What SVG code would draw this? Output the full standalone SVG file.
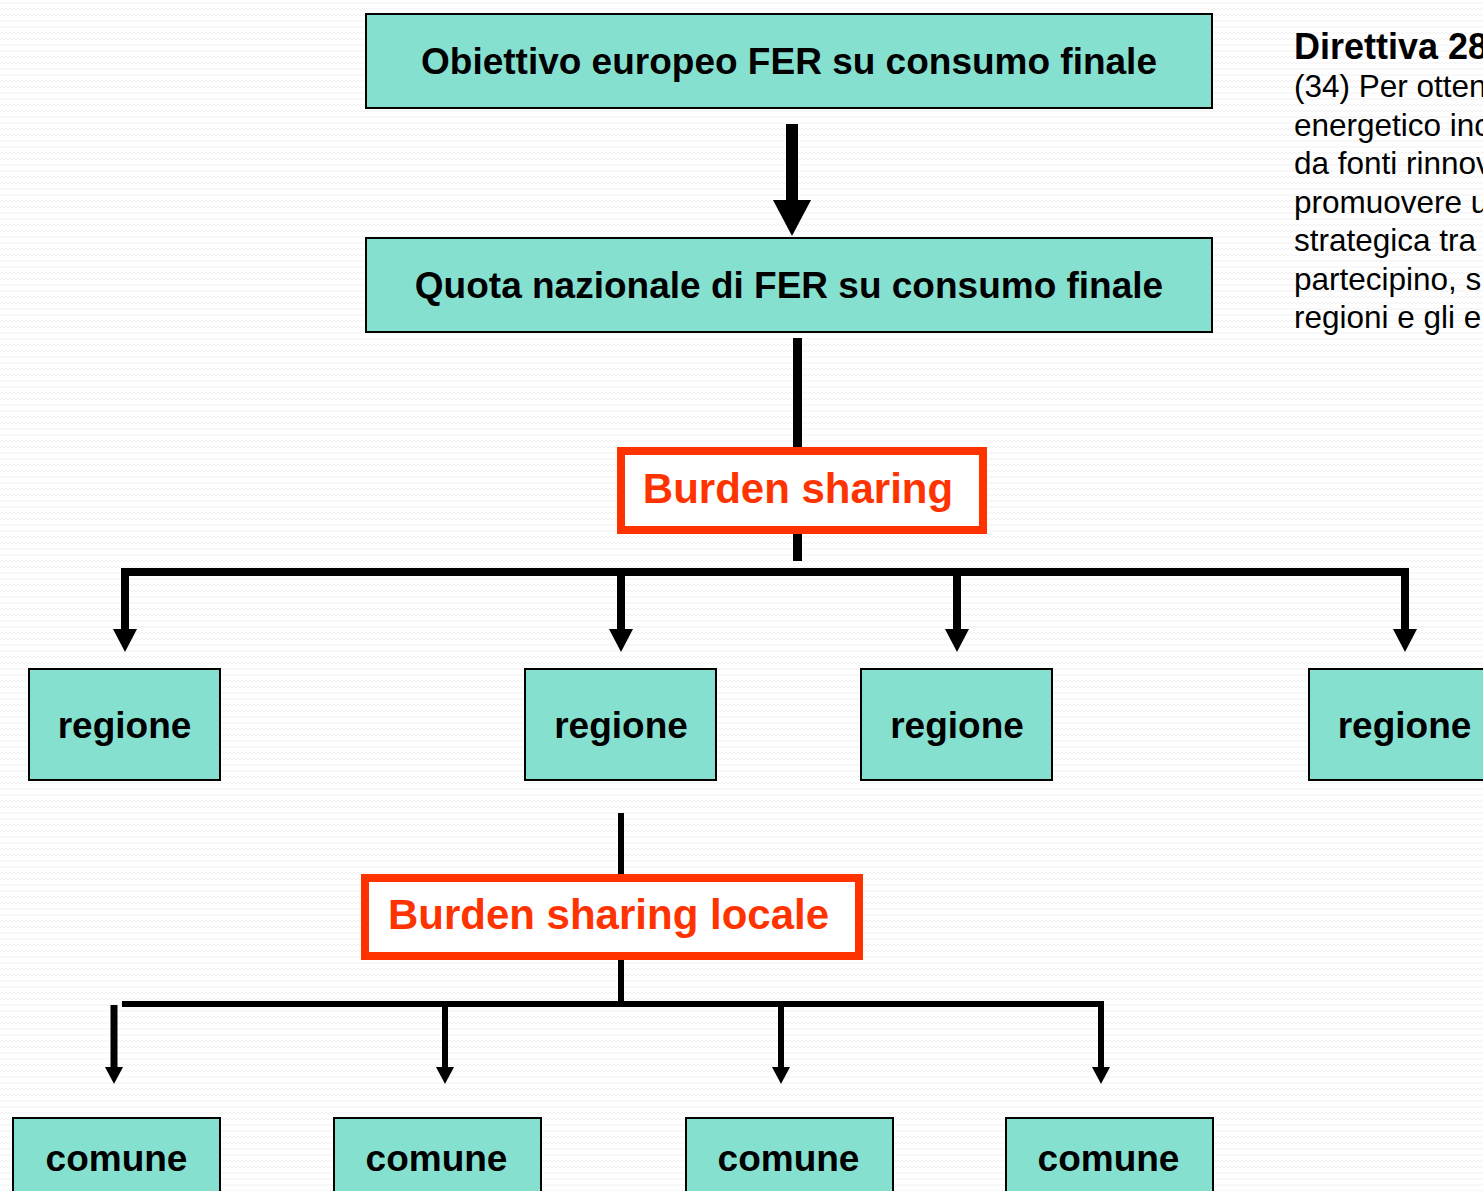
<svg xmlns="http://www.w3.org/2000/svg" width="1483" height="1191" viewBox="0 0 1483 1191">
  <defs>
    <pattern id="bg" width="8" height="6" patternUnits="userSpaceOnUse">
      <rect width="8" height="6" fill="#ffffff"/>
      <path d="M0,4 L2,2 L4,4 L6,2 L8,4" fill="none" stroke="#f1f1f1" stroke-width="1"/>
    </pattern>
    <style>
      .box { fill: #85E0D0; stroke: #000; stroke-width: 2; }
      .rbox { fill: #fff; stroke: #FF3300; stroke-width: 8; }
      .t { font-family: "Liberation Sans", Arial, sans-serif; font-weight: bold; fill: #000; text-anchor: middle; }
      .big { font-size: 37px; }
      .red { font-family: "Liberation Sans", Arial, sans-serif; font-weight: bold; fill: #FF3300; text-anchor: middle; font-size: 42px; }
      .side { font-family: "Liberation Sans", Arial, sans-serif; font-size: 31.5px; fill: #000; }
      .line { fill: none; stroke: #000; }
      .head { fill: #000; }
    </style>
  </defs>
  <rect width="1483" height="1191" fill="url(#bg)"/>

  <g id="connectors">
    <rect x="786" y="124" width="12" height="78" class="head"/>
    <polygon points="773,200 811,200 792,236" class="head"/>
    <line x1="797.5" y1="338" x2="797.5" y2="450" class="line" stroke-width="9"/>
    <line x1="797.5" y1="534" x2="797.5" y2="561" class="line" stroke-width="9"/>
    <path d="M125,629 V572 H1405 V629" class="line" stroke-width="8"/>
    <line x1="621" y1="572" x2="621" y2="629" class="line" stroke-width="8"/>
    <line x1="957" y1="572" x2="957" y2="629" class="line" stroke-width="8"/>
    <polygon points="113,629 137,629 125,652" class="head"/>
    <polygon points="609,629 633,629 621,652" class="head"/>
    <polygon points="945,629 969,629 957,652" class="head"/>
    <polygon points="1393,629 1417,629 1405,652" class="head"/>
    <line x1="621" y1="813" x2="621" y2="878" class="line" stroke-width="6"/>
    <line x1="621" y1="960" x2="621" y2="1004" class="line" stroke-width="6"/>
    <path d="M122,1004 H1101 V1068" class="line" stroke-width="6"/>
    <line x1="114" y1="1005" x2="114" y2="1068" class="line" stroke-width="7"/>
    <line x1="445" y1="1004" x2="445" y2="1068" class="line" stroke-width="6"/>
    <line x1="781" y1="1004" x2="781" y2="1068" class="line" stroke-width="6"/>
    <polygon points="105,1067 123,1067 114,1084" class="head"/>
    <polygon points="436,1067 454,1067 445,1084" class="head"/>
    <polygon points="772,1067 790,1067 781,1084" class="head"/>
    <polygon points="1092,1067 1110,1067 1101,1084" class="head"/>
  </g>

  <g id="obiettivo">
    <rect x="366" y="14" width="846" height="94" class="box"/>
    <text x="789" y="74" class="t big">Obiettivo europeo FER su consumo finale</text>
  </g>
  <g id="quota">
    <rect x="366" y="238" width="846" height="94" class="box"/>
    <text x="789" y="298" class="t big">Quota nazionale di FER su consumo finale</text>
  </g>
  <g id="burden-sharing">
    <rect x="621" y="451" width="362" height="79" class="rbox"/>
    <text x="798" y="503" class="red">Burden sharing</text>
  </g>
  <g id="regione1">
    <rect x="29" y="669" width="191" height="111" class="box"/>
    <text x="124.5" y="738" class="t big">regione</text>
  </g>
  <g id="regione2">
    <rect x="525" y="669" width="191" height="111" class="box"/>
    <text x="621" y="738" class="t big">regione</text>
  </g>
  <g id="regione3">
    <rect x="861" y="669" width="191" height="111" class="box"/>
    <text x="957" y="738" class="t big">regione</text>
  </g>
  <g id="regione4">
    <rect x="1309" y="669" width="191" height="111" class="box"/>
    <text x="1404.5" y="738" class="t big">regione</text>
  </g>
  <g id="burden-sharing-locale">
    <rect x="365" y="878" width="494" height="78" class="rbox"/>
    <text x="608.5" y="929" class="red">Burden sharing locale</text>
  </g>
  <g id="comune1">
    <rect x="13" y="1118" width="207" height="100" class="box"/>
    <text x="116.5" y="1171" class="t big">comune</text>
  </g>
  <g id="comune2">
    <rect x="334" y="1118" width="207" height="100" class="box"/>
    <text x="436.5" y="1171" class="t big">comune</text>
  </g>
  <g id="comune3">
    <rect x="686" y="1118" width="207" height="100" class="box"/>
    <text x="788.5" y="1171" class="t big">comune</text>
  </g>
  <g id="comune4">
    <rect x="1006" y="1118" width="207" height="100" class="box"/>
    <text x="1108.5" y="1171" class="t big">comune</text>
  </g>

  <g id="direttiva">
    <text x="1294" y="59" class="side" style="font-weight:bold;font-size:36px">Direttiva 28</text>
    <text x="1294" y="97" class="side">(34) Per otten</text>
    <text x="1294" y="135.5" class="side">energetico inc</text>
    <text x="1294" y="174" class="side">da fonti rinnov</text>
    <text x="1294" y="212.5" class="side">promuovere u</text>
    <text x="1294" y="251" class="side">strategica tra</text>
    <text x="1294" y="289.5" class="side">partecipino, s</text>
    <text x="1294" y="328" class="side">regioni e gli e</text>
  </g>
</svg>
